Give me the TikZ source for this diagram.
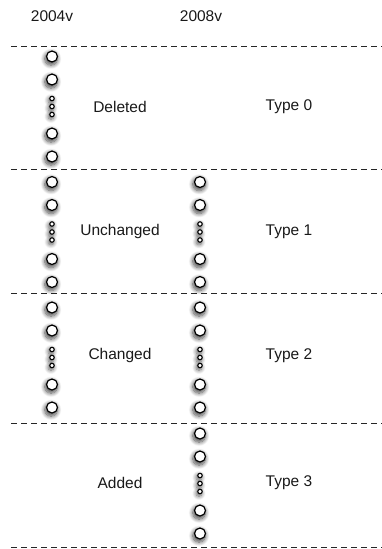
\documentclass[tikz,border=0pt]{standalone}
\usepackage{fontspec}
\setmainfont{Liberation Sans}
\usetikzlibrary{shadows.blur}
\tikzset{
  sep/.style={draw=black!85, line width=1pt, dash pattern=on 6pt off 4pt},
  ver/.style={circle, draw=black, fill=white, line width=1.2pt, minimum size=11pt, inner sep=0pt,
    blur shadow={shadow xshift=-0.8pt, shadow yshift=-2pt, shadow scale=1.15, shadow blur radius=3.5pt, shadow blur steps=10, shadow opacity=70}},
  dotv/.style={circle, draw=black, fill=white, line width=1.1pt, minimum size=4.5pt, inner sep=0pt,
    blur shadow={shadow xshift=-0.8pt, shadow yshift=-1.5pt, shadow scale=1.3, shadow blur radius=3pt, shadow blur steps=8, shadow opacity=60}},
  lbl/.style={font=\fontsize{15.5}{17}\selectfont, inner sep=0pt, text=black!90},
}
\newcommand{\vcol}[3]{% name, x, center y
  \node[ver] (#1a) at (#2,#3-50) {};
  \node[ver] (#1b) at (#2,#3-27) {};
  \node[dotv] (#1c) at (#2,#3-8) {};
  \node[dotv] (#1d) at (#2,#3) {};
  \node[dotv] (#1e) at (#2,#3+8) {};
  \node[ver] (#1f) at (#2,#3+27) {};
  \node[ver] (#1g) at (#2,#3+50) {};
}
\begin{document}
\begin{tikzpicture}[x=1pt,y=-1pt]
\useasboundingbox (0,0) rectangle (382,549);
\node[lbl] (h1) at (52,16) {2004v};
\node[lbl] (h2) at (201,16) {2008v};
\coordinate (l0) at (11,46);    \coordinate (r0) at (382,46);
\coordinate (l1) at (11,169.5); \coordinate (r1) at (382,169.5);
\coordinate (l2) at (11,293);   \coordinate (r2) at (382,293);
\coordinate (l3) at (11,423.5); \coordinate (r3) at (382,423.5);
\coordinate (l4) at (11,547.5); \coordinate (r4) at (382,547.5);
\foreach \i in {0,...,4} \draw[sep] (l\i) -- (r\i);
\vcol{p}{52}{106.5}
\vcol{q}{52}{232}
\vcol{r}{200}{232}
\vcol{s}{52}{357.5}
\vcol{t}{200}{357.5}
\vcol{u}{200}{483.5}
\node[lbl] (d0) at (120,107) {Deleted};
\node[lbl] (d1) at (120,231.5) {Unchanged};
\node[lbl] (d2) at (120,355.5) {Changed};
\node[lbl] (d3) at (120,483) {Added};
\node[lbl] (t0) at (289,107) {Type 0};
\node[lbl] (t1) at (289,231.5) {Type 1};
\node[lbl] (t2) at (289,355.5) {Type 2};
\node[lbl] (t3) at (289,483) {Type 3};
\end{tikzpicture}
\end{document}
